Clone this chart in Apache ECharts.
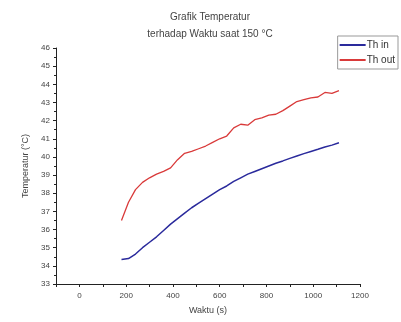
<!DOCTYPE html>
<html>
<head>
<meta charset="utf-8">
<script src="https://cdn.jsdelivr.net/npm/echarts@6/dist/echarts.min.js"></script>
<style>
  html, body { margin: 0; padding: 0; background: #fff; }
  #chart { width: 401px; height: 322px; }
</style>
</head>
<body>
<div id="chart"></div>
<script>
// waktu (s)
const waktu = [180, 210, 240, 270, 300, 330, 360, 390, 420, 450, 480, 510, 540, 570, 600, 630,
  660, 690, 720, 750, 780, 810, 840, 870, 900, 930, 960, 990, 1020, 1050, 1080, 1110]
// Th in (°C)
const thIn = [34.35, 34.4, 34.65, 35.0, 35.3, 35.6, 35.95, 36.3, 36.6, 36.9, 37.2, 37.45, 37.7, 37.95, 38.2, 38.4,
  38.65, 38.85, 39.05, 39.2, 39.35, 39.5, 39.65, 39.78, 39.92, 40.05, 40.18, 40.3, 40.42, 40.55, 40.65, 40.78]
// Th out (°C)
const thOut = [36.5, 37.5, 38.2, 38.6, 38.85, 39.05, 39.2, 39.4, 39.85, 40.2, 40.3, 40.45, 40.6, 40.8, 41.0, 41.15,
  41.6, 41.8, 41.75, 42.05, 42.15, 42.3, 42.35, 42.55, 42.8, 43.05, 43.15, 43.25, 43.3, 43.55, 43.5, 43.65]

const pairs = ys => waktu.map((t, i) => [t, ys[i]])

const axisText = { color: '#444', fontSize: 8, fontFamily: 'Liberation Sans' }

const option = {
  animation: false,
  title: {
    text: 'Grafik Temperatur\nterhadap Waktu saat 150 °C',
    left: 205,
    top: 4,
    textAlign: 'center',
    textStyle: { color: '#444', fontSize: 10, fontWeight: 'normal', fontFamily: 'Liberation Sans', lineHeight: 17 }
  },
  legend: {
    orient: 'vertical',
    right: 3,
    top: 36,
    icon: 'rect',
    itemWidth: 26,
    itemHeight: 2,
    itemGap: 5,
    padding: [4, 3, 4, 2],
    borderColor: '#999',
    borderWidth: 1,
    textStyle: { color: '#333', fontSize: 10, fontFamily: 'Liberation Sans', padding: [0, 0, 0, -4] },
    data: ['Th in', 'Th out']
  },
  grid: { left: 56, right: 41, top: 48, bottom: 38 },
  xAxis: {
    type: 'value',
    min: -100,
    max: 1200,
    interval: 100,
    name: 'Waktu (s)',
    nameLocation: 'middle',
    nameGap: 22,
    nameTextStyle: { color: '#444', fontSize: 9, fontFamily: 'Liberation Sans' },
    axisLine: { show: true, onZero: false, lineStyle: { color: '#222', width: 1 } },
    axisTick: { length: 3, lineStyle: { color: '#222' } },
    axisLabel: Object.assign({
      margin: 8,
      formatter: v => (v % 200 === 0 ? String(v) : '')
    }, axisText),
    splitLine: { show: false }
  },
  yAxis: {
    type: 'value',
    min: 33,
    max: 46,
    interval: 1,
    name: 'Temperatur (°C)',
    nameLocation: 'middle',
    nameGap: 26,
    nameTextStyle: { color: '#444', fontSize: 9, fontFamily: 'Liberation Sans' },
    axisLine: { show: true, onZero: false, lineStyle: { color: '#222', width: 1 } },
    axisTick: { length: 3, lineStyle: { color: '#222' } },
    minorTick: { show: true, splitNumber: 2, length: 2, lineStyle: { color: '#222' } },
    axisLabel: Object.assign({ margin: 6 }, axisText),
    splitLine: { show: false }
  },
  series: [
    {
      name: 'Th in',
      type: 'line',
      data: pairs(thIn),
      showSymbol: false,
      color: '#2a2a9c',
      lineStyle: { width: 1.5 }
    },
    {
      name: 'Th out',
      type: 'line',
      data: pairs(thOut),
      showSymbol: false,
      color: '#d93a3a',
      lineStyle: { width: 1.3 }
    }
  ]
}

const myChart = echarts.init(document.getElementById('chart'))
myChart.setOption(option)
</script>
</body>
</html>
